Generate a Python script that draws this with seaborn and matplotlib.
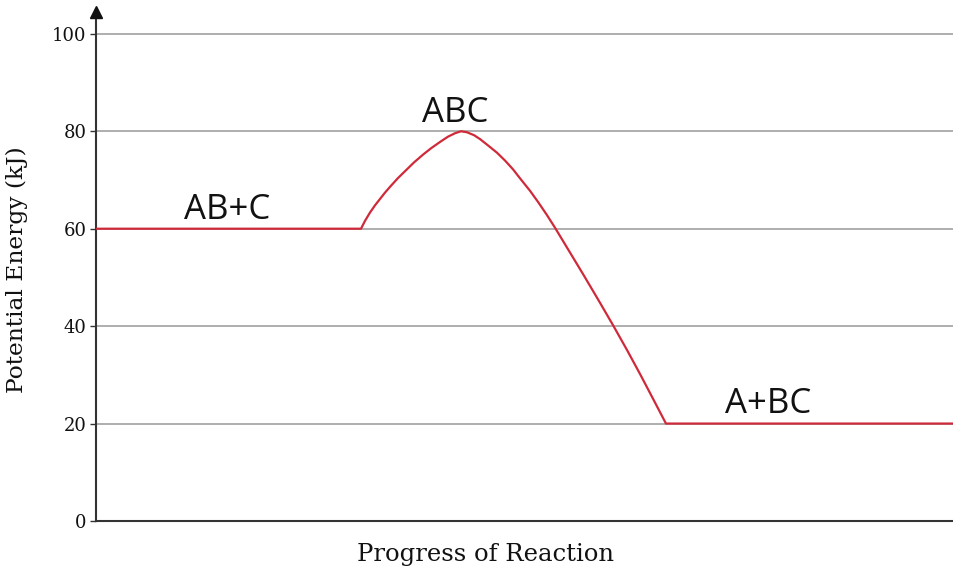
import matplotlib
matplotlib.use("Agg")
import matplotlib.pyplot as plt
import seaborn as sns
import pandas as pd

# Reaction progress (0-100 along the x axis) and potential energy in kJ
progress = [0, 30.89, 31.35, 31.93, 32.52, 33.10, 33.68, 34.27, 35.20, 36.13,
            37.06, 38.11, 39.04, 40.09, 41.03, 41.84, 42.54, 43.24, 44.06,
            44.76, 45.69, 46.74, 47.67, 48.60, 49.53, 50.58, 51.52, 52.56,
            53.50, 55.01, 56.76, 58.51, 60.26, 61.89, 63.40, 64.92, 66.43, 100]
energy = [60, 60.0, 61.6, 63.3, 64.8, 66.1, 67.4, 68.6, 70.4, 72.0,
          73.6, 75.2, 76.5, 77.8, 78.9, 79.6, 80.0, 79.8, 79.2,
          78.4, 77.1, 75.6, 74.0, 72.2, 70.1, 67.8, 65.5, 62.8,
          60.2, 55.8, 50.7, 45.5, 40.2, 35.1, 30.2, 25.1, 20.0, 20]

# Species labels and where they sit on the profile
species = ["AB+C", "ABC", "A+BC"]
species_x = [15.3, 41.9, 78.3]
species_y = [62.0, 82.0, 22.1]

yticks = [0, 20, 40, 60, 80, 100]

sns.set_theme(style="white")
plt.rcParams["font.family"] = ["DejaVu Serif"]

fig = plt.figure(figsize=(9.54, 5.69), dpi=100)
ax = fig.add_axes([0.1006, 0.0844, 0.8994, 0.8946])

df = pd.DataFrame({"Progress": progress, "Energy": energy})

for yv in yticks[1:]:
    ax.axhline(yv, color="#a8a8a8", lw=1.3, zorder=1)

sns.lineplot(data=df, x="Progress", y="Energy", sort=False, color="#cf2a3a",
             lw=1.6, ax=ax, zorder=3, solid_joinstyle="round")

ax.set_xlim(0, 100)
ax.set_ylim(0, 104.5)
ax.set_yticks(yticks)
ax.set_yticklabels([str(v) for v in yticks], fontsize=13, color="#111111")
ax.set_xticks([])
ax.tick_params(axis="y", length=4, width=1, color="#333333", pad=3, direction="out", left=True)

for side in ["top", "right"]:
    ax.spines[side].set_visible(False)
for side in ["left", "bottom"]:
    ax.spines[side].set_color("#333333")
    ax.spines[side].set_linewidth(1.5)

# Arrowhead on top of the energy axis
ax.plot([0], [104.5], marker="^", markersize=8, color="#111111",
        clip_on=False, zorder=5)

ax.set_xlabel("Progress of Reaction", fontsize=17.5, color="#111111")
ax.set_ylabel("Potential Energy (kJ)", fontsize=16.8, color="#111111")
ax.xaxis.set_label_coords(0.4545, -0.043)
ax.yaxis.set_label_coords(-0.079, 0.493)

for name, sx, sy in zip(species, species_x, species_y):
    ax.text(sx, sy, name, fontsize=25, family=["Open Sans", "DejaVu Sans"],
            ha="center", va="baseline", color="#111111")

fig.savefig("out.png", dpi=100)
